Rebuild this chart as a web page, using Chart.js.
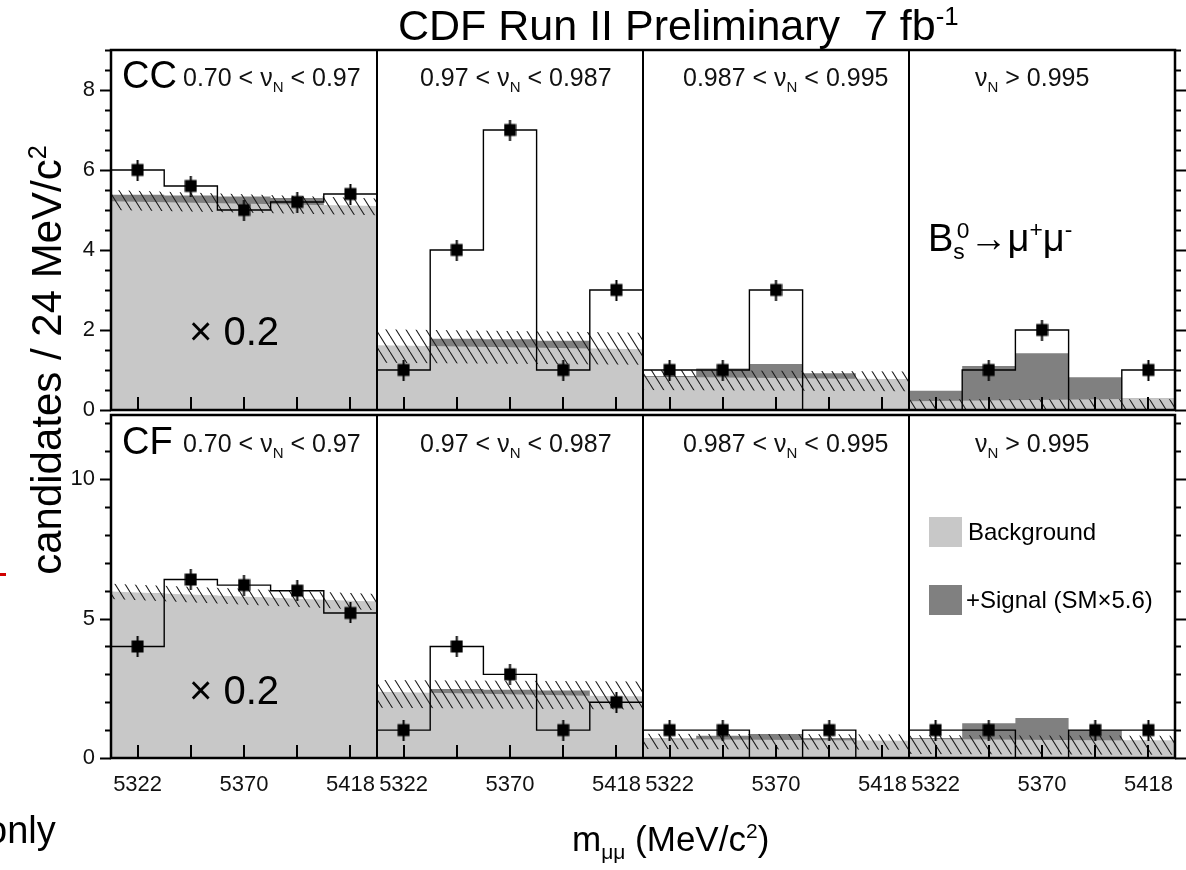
<!DOCTYPE html>
<html>
<head>
<meta charset="utf-8">
<title>CDF Run II Bs to mu mu</title>
<script src="https://cdn.jsdelivr.net/npm/chart.js@4.4.1/dist/chart.umd.min.js"></script>
<style>
  body { margin: 0; width: 1186px; height: 870px; overflow: hidden; position: relative; background: #fff;
         font-family: "Liberation Sans", Arial, Helvetica, sans-serif; color: #000; }
  canvas { position: absolute; left: 0; }
  .lbl { position: absolute; white-space: nowrap; line-height: 1; }
  .lbl sub, .lbl sup { font-size: 60%; line-height: 0; }
  .rng { font-size: 25px; transform: translateY(-50%); color: #111; }
  .big { font-size: 38px; transform: translateY(-50%); }
  .key { position: absolute; width: 33px; height: 30px; }
</style>
</head>
<body>
<canvas id="ccRow" width="1186" height="430" style="top:0"></canvas>
<canvas id="cfRow" width="1186" height="470" style="top:400px"></canvas>

<div class="lbl" style="left:398px; top:4px; font-size:43px;">CDF Run II Preliminary&nbsp;&nbsp;7 fb<sup>-1</sup></div>

<div class="lbl big" style="left:122px; top:75px;">CC</div>
<div class="lbl big" style="left:122px; top:441px;">CF</div>
<div class="lbl big" style="left:189px; top:331px; font-size:40px;">× 0.2</div>
<div class="lbl big" style="left:189px; top:690px; font-size:40px;">× 0.2</div>
<div class="lbl big" style="left:928px; top:238px;">B<sub style="vertical-align:-0.35em">s</sub><sup style="margin-left:-0.35em;vertical-align:0.55em">0</sup>→μ<sup>+</sup>μ<sup>-</sup></div>

<div id="ranges"></div>

<div class="key" style="left:929px; top:517px; background:#c8c8c8;"></div>
<div class="lbl" style="left:968px; top:532px; font-size:24px; transform:translateY(-50%);">Background</div>
<div class="key" style="left:929px; top:585px; background:#808080;"></div>
<div class="lbl" style="left:966px; top:600px; font-size:24px; transform:translateY(-50%);">+Signal (SM×5.6)</div>

<div class="lbl" style="left:47px; top:360px; font-size:42px; transform:translate(-50%,-50%) rotate(-90deg);">candidates / 24 MeV/c<sup>2</sup></div>
<div class="lbl" style="left:572px; top:838px; font-size:35px; transform:translateY(-50%);">m<sub>μμ</sub> (MeV/c<sup>2</sup>)</div>

<div class="lbl" style="left:-14px; top:830px; font-size:38px; transform:translateY(-50%);">only</div>
<div style="position:absolute; left:0; top:573px; width:6px; height:3px; background:#d00000;"></div>

<script>
// bins of m_mumu (MeV/c^2), same in every panel
const binCentres = [5322, 5346, 5370, 5394, 5418];
const binWidth = 24;
const massLabels = [5322, 5370, 5418];

// neural-net output ranges, one per column
const nuRanges = ['0.70 &lt; ν<sub>N</sub> &lt; 0.97', '0.97 &lt; ν<sub>N</sub> &lt; 0.987',
                  '0.987 &lt; ν<sub>N</sub> &lt; 0.995', 'ν<sub>N</sub> &gt; 0.995'];

// observed candidates per bin (first column drawn x 0.2)
const ccObserved = [[6.0, 5.6, 5.0, 5.2, 5.4], [1, 4, 7, 1, 3], [1, 1, 3, 0, 0], [0, 1, 2, 0, 1]];
const cfObserved = [[4.0, 6.4, 6.2, 6.0, 5.2], [1, 4, 3, 1, 2], [1, 1, 0, 1, 0], [1, 1, 0, 1, 1]];

// background expectation at the low and high edge of each column
const ccBackground = [[5.22, 5.10], [1.62, 1.52], [0.83, 0.77], [0.22, 0.29]];
const cfBackground = [[5.97, 5.60], [2.38, 2.20], [0.68, 0.62], [0.68, 0.62]];

// background + signal (SM x 5.6) per bin
const ccSignalTop = [[5.38, 5.36, 5.34, 5.30, 5.10], [1.60, 1.78, 1.77, 1.73, 1.50],
                     [0.85, 1.04, 1.15, 0.92, 0.76], [0.48, 1.10, 1.42, 0.82, 0.29]];
const cfSignalTop = [[5.90, 5.82, 5.75, 5.67, 5.60], [2.30, 2.47, 2.45, 2.42, 2.20],
                     [0.70, 0.80, 0.86, 0.72, 0.60], [0.72, 1.25, 1.43, 1.00, 0.62]];

// background uncertainty band (low / high edge of each column)
const ccBandHigh = [[5.50, 5.29], [2.02, 1.93], [1.00, 0.96], [0.27, 0.27]];
const ccBandLow  = [[5.00, 4.87], [1.18, 1.13], [0.50, 0.47], [0.02, 0.02]];
const cfBandHigh = [[6.25, 5.88], [2.80, 2.74], [0.87, 0.84], [0.82, 0.80]];
const cfBandLow  = [[5.70, 5.30], [1.80, 1.74], [0.32, 0.30], [0.14, 0.12]];

// y axis ticks
const ccTicks = [0, 2, 4, 6, 8];
const cfTicks = [0, 5, 10];
const ccMax = 9.0;
const cfMax = 12.3;

const massLow = binCentres[0] - binWidth / 2;
const panelSpan = binCentres.length * binWidth;
const nPanels = nuRanges.length;

function panelX(p, m) {
  return p * panelSpan + (m - massLow);
}

// panel labels
const rangeLeft = [183, 420, 683, 975];
const rangeTop = [77, 443];
let html = '';
rangeTop.forEach(t => nuRanges.forEach((r, p) => {
  html += `<div class="lbl rng" style="left:${rangeLeft[p]}px; top:${t}px;">${r}</div>`;
}));
document.getElementById('ranges').innerHTML = html;

// marker: filled square with short error bar
const marker = document.createElement('canvas');
marker.width = 13; marker.height = 21;
const mctx = marker.getContext('2d');
mctx.fillStyle = '#000';
mctx.fillRect(0.5, 4.5, 12, 12);
mctx.fillRect(5.5, 0, 2, 21);

function hatchFor(ctx) {
  const c = document.createElement('canvas');
  c.width = 10; c.height = 16;
  const h = c.getContext('2d');
  h.strokeStyle = '#1a1a1a';
  h.lineWidth = 1.1;
  for (const dx of [-10, 0, 10]) {
    h.beginPath(); h.moveTo(dx, 0); h.lineTo(dx + 10, 16); h.stroke();
  }
  return ctx.createPattern(c, 'repeat');
}

function buildDatasets(observed, background, signalTop, bandHigh, bandLow, hatch) {
  const ds = [];
  for (let p = 0; p < nPanels; p++) {
    const edges = [];
    for (let k = 0; k <= binCentres.length; k++) edges.push(panelX(p, massLow + k * binWidth));
    const first = edges[0], last = edges[edges.length - 1];

    // data points
    const pts = [];
    observed[p].forEach((n, i) => { if (n > 0) pts.push({ x: panelX(p, binCentres[i]), y: n }); });
    ds.push({ data: pts, showLine: false, pointStyle: marker, pointRadius: 6, order: 0 });

    // observed histogram outline
    const outline = [{ x: first, y: 0 }];
    observed[p].forEach((n, i) => { outline.push({ x: edges[i], y: n }, { x: edges[i + 1], y: n }); });
    outline.push({ x: last, y: 0 });
    ds.push({ data: outline, borderColor: '#000', borderWidth: 1.4, pointRadius: 0, fill: false, order: 1 });

    // background uncertainty, hatched
    ds.push({ data: [{ x: first, y: bandHigh[p][0] }, { x: last, y: bandHigh[p][1] }],
              borderWidth: 0, pointRadius: 0, fill: '+1', backgroundColor: hatch, order: 2 });
    ds.push({ data: [{ x: first, y: bandLow[p][0] }, { x: last, y: bandLow[p][1] }],
              borderWidth: 0, pointRadius: 0, fill: false, order: 2 });

    // background
    ds.push({ data: [{ x: first, y: background[p][0] }, { x: last, y: background[p][1] }],
              borderWidth: 0, pointRadius: 0, fill: 'origin', backgroundColor: '#c8c8c8', order: 3 });

    // background + signal
    const sig = [];
    signalTop[p].forEach((v, i) => { sig.push({ x: edges[i], y: v }, { x: edges[i + 1], y: v }); });
    ds.push({ data: sig, borderWidth: 0, pointRadius: 0, fill: 'origin', backgroundColor: '#808080', order: 4 });
  }
  return ds;
}

const frameDecor = {
  id: 'frameDecor',
  afterDraw(chart, args, opts) {
    const { ctx, chartArea: a } = chart;
    const x = chart.scales.x, y = chart.scales.y;
    ctx.save();
    ctx.strokeStyle = '#000';
    // bin ticks pointing up from the axis
    ctx.lineWidth = 2;
    for (let p = 0; p < nPanels; p++) {
      binCentres.forEach(c => {
        const px = Math.round(x.getPixelForValue(panelX(p, c)));
        ctx.beginPath(); ctx.moveTo(px, a.bottom); ctx.lineTo(px, a.bottom - 13); ctx.stroke();
      });
    }
    // column dividers
    for (let p = 1; p < nPanels; p++) {
      const px = Math.round(x.getPixelForValue(p * panelSpan));
      ctx.beginPath(); ctx.moveTo(px, a.top); ctx.lineTo(px, a.bottom); ctx.stroke();
    }
    // y ticks, outside on both sides
    for (let v = 0; v <= y.max + 1e-6; v += opts.minorStep) {
      const py = Math.round(y.getPixelForValue(v)) + 0.5;
      const len = opts.major.some(t => Math.abs(t - v) < 1e-6) ? 11 : 6;
      ctx.beginPath();
      ctx.moveTo(a.left - len, py); ctx.lineTo(a.left, py);
      ctx.moveTo(a.right, py); ctx.lineTo(a.right + len, py);
      ctx.stroke();
    }
    ctx.lineWidth = 2.5;
    ctx.strokeRect(a.left, a.top, a.right - a.left, a.bottom - a.top);
    ctx.restore();
  }
};

function makeRow(canvasId, observed, background, signalTop, bandHigh, bandLow, ticks, yMax, minorStep, showX, pad) {
  const canvas = document.getElementById(canvasId);
  const hatch = hatchFor(canvas.getContext('2d'));
  const xTicks = [];
  for (let p = 0; p < nPanels; p++) massLabels.forEach(m => xTicks.push(panelX(p, m)));
  return new Chart(canvas, {
    type: 'line',
    data: { datasets: buildDatasets(observed, background, signalTop, bandHigh, bandLow, hatch) },
    plugins: [frameDecor],
    options: {
      responsive: false,
      animation: false,
      layout: { padding: pad },
      elements: { line: { tension: 0 } },
      plugins: {
        legend: { display: false },
        tooltip: { enabled: false },
        frameDecor: { major: ticks, minorStep: minorStep }
      },
      scales: {
        x: {
          type: 'linear', min: 0, max: nPanels * panelSpan,
          display: showX,
          grid: { display: false, drawTicks: true, tickLength: 14 },
          border: { display: false },
          afterBuildTicks: s => { s.ticks = xTicks.map(v => ({ value: v })); },
          afterFit: s => { if (showX) s.height = 112; },
          ticks: {
            autoSkip: false, maxRotation: 0, padding: 0, color: '#111',
            font: { family: 'Liberation Sans', size: 22 },
            callback: (v, i) => String(massLabels[i % massLabels.length])
          }
        },
        y: {
          min: 0, max: yMax,
          grid: { display: false, drawTicks: true, tickLength: 16 },
          border: { display: false },
          afterBuildTicks: s => { s.ticks = ticks.map(v => ({ value: v })); },
          afterFit: s => { s.width = 111; },
          ticks: { padding: 0, color: '#111', font: { family: 'Liberation Sans', size: 22 } }
        }
      }
    }
  });
}

makeRow('ccRow', ccObserved, ccBackground, ccSignalTop, ccBandHigh, ccBandLow, ccTicks, ccMax, 0.5, false,
        { top: 50, right: 11, bottom: 20, left: 0 });
makeRow('cfRow', cfObserved, cfBackground, cfSignalTop, cfBandHigh, cfBandLow, cfTicks, cfMax, 1, true,
        { top: 15, right: 11, bottom: 0, left: 0 });
</script>
</body>
</html>
